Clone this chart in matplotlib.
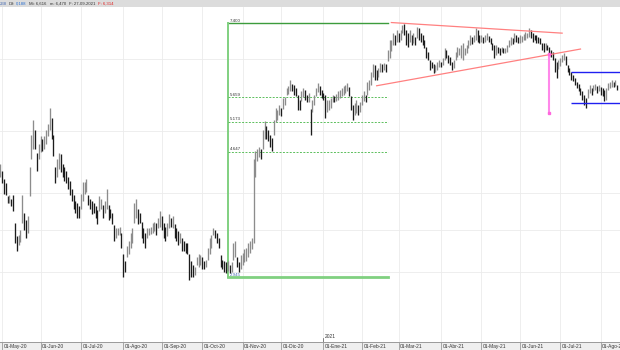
import numpy as np
import pandas as pd
import matplotlib
matplotlib.use("Agg")
import matplotlib.pyplot as plt
from matplotlib.ticker import NullLocator, FixedLocator
from matplotlib.transforms import ScaledTranslation, blended_transform_factory

plt.rcParams['font.family'] = ['Liberation Sans', 'DejaVu Sans']

# ---------------- data ----------------
start_date = '2020-04-30'
highs = [
    4.44, 4.33, 4.21, 4.14, 3.95, 3.97, 3.92, 3.97, 3.59, 3.42,
    3.43, 3.50, 3.97, 3.72, 3.63, 3.68, 4.40, 4.94, 5.22, 5.03,
    4.62, 4.77, 4.91, 4.86, 4.91, 5.03, 5.14, 5.45, 5.25, 4.94,
    4.40, 4.52, 4.62, 4.60, 4.44, 4.39, 4.33, 4.24, 4.18, 4.06,
    3.97, 3.88, 3.85, 3.81, 3.99, 4.16, 4.16, 4.21, 3.97, 3.92,
    3.88, 3.85, 3.81, 3.76, 3.95, 3.92, 3.83, 3.88, 4.06, 3.83,
    3.78, 3.72, 3.56, 3.52, 3.52, 3.54, 3.46, 3.20, 3.13, 3.30,
    3.36, 3.46, 3.52, 3.85, 3.92, 3.78, 3.72, 3.60, 3.52, 3.46,
    3.52, 3.52, 3.54, 3.59, 3.60, 3.59, 3.65, 3.74, 3.68, 3.59,
    3.54, 3.59, 3.70, 3.65, 3.68, 3.57, 3.52, 3.48, 3.46, 3.40,
    3.36, 3.34, 3.34, 3.20, 3.13, 3.08, 3.06, 3.17, 3.20, 3.19,
    3.17, 3.13, 3.14, 3.28, 3.40, 3.44, 3.52, 3.50, 3.46, 3.40,
    3.19, 3.14, 3.13, 3.11, 3.13, 3.08, 3.11, 3.34, 3.36, 3.17,
    3.11, 3.19, 3.22, 3.26, 3.28, 3.34, 3.36, 3.40, 4.52, 4.66,
    4.69, 4.73, 4.69, 5.03, 5.20, 5.09, 5.03, 4.94, 4.89, 5.22,
    5.45, 5.41, 5.51, 5.45, 5.65, 5.67, 5.86, 5.90, 6.03, 5.94,
    5.92, 5.86, 5.71, 5.61, 5.78, 5.86, 5.82, 5.71, 5.75, 5.43,
    5.61, 5.71, 5.86, 5.96, 5.90, 5.82, 5.75, 5.71, 5.61, 5.61,
    5.65, 5.71, 5.69, 5.73, 5.78, 5.82, 5.86, 5.90, 5.92, 5.96,
    5.88, 5.69, 5.51, 5.55, 5.61, 5.51, 5.57, 5.71, 5.78, 5.71,
    5.98, 6.03, 6.20, 6.38, 6.36, 6.25, 6.29, 6.41, 6.38, 6.41,
    6.38, 6.72, 6.96, 6.96, 7.14, 7.09, 7.22, 7.14, 7.22, 7.35,
    7.38, 7.22, 7.14, 7.22, 7.09, 7.14, 7.04, 7.30, 7.27, 7.14,
    7.09, 6.96, 6.78, 6.67, 6.48, 6.43, 6.38, 6.36, 6.43, 6.48,
    6.43, 6.52, 6.76, 6.72, 6.60, 6.55, 6.43, 6.48, 6.67, 6.78,
    6.76, 6.84, 6.88, 6.76, 6.84, 6.96, 7.09, 7.04, 7.09, 7.27,
    7.22, 7.09, 7.09, 7.04, 7.09, 7.14, 7.06, 7.01, 6.90, 6.84,
    6.84, 6.78, 6.76, 6.78, 6.76, 6.76, 6.84, 6.96, 7.04, 7.01,
    7.14, 7.09, 7.04, 7.09, 7.06, 7.12, 7.17, 7.14, 7.27, 7.22,
    7.14, 7.09, 7.09, 7.04, 7.01, 6.90, 6.88, 6.88, 6.84, 6.78,
    6.72, 6.67, 6.52, 6.43, 6.48, 6.52, 6.60, 6.64, 6.57, 6.36,
    6.29, 6.20, 6.14, 6.07, 5.98, 5.94, 5.86, 5.78, 5.71, 5.65,
    5.84, 5.92, 5.86, 5.92, 5.94, 5.90, 5.92, 5.88, 5.86, 5.82,
    5.86, 5.96, 5.98, 6.03, 5.98, 6.03, 5.92,
]
lows = [
    4.24, 4.14, 3.99, 3.97, 3.85, 3.86, 3.81, 3.74, 3.34, 3.24,
    3.31, 3.35, 3.59, 3.50, 3.40, 3.46, 3.95, 4.52, 4.69, 4.69,
    4.33, 4.52, 4.64, 4.66, 4.69, 4.77, 4.91, 5.03, 4.86, 4.57,
    4.14, 4.24, 4.36, 4.31, 4.24, 4.18, 4.14, 4.06, 3.97, 3.88,
    3.78, 3.72, 3.65, 3.65, 3.78, 3.88, 3.99, 4.02, 3.83, 3.78,
    3.70, 3.72, 3.65, 3.57, 3.74, 3.78, 3.65, 3.72, 3.78, 3.62,
    3.65, 3.57, 3.36, 3.40, 3.44, 3.44, 3.28, 2.95, 3.00, 3.17,
    3.20, 3.28, 3.34, 3.59, 3.65, 3.57, 3.59, 3.40, 3.34, 3.28,
    3.40, 3.44, 3.45, 3.46, 3.48, 3.44, 3.52, 3.54, 3.50, 3.40,
    3.36, 3.42, 3.52, 3.54, 3.52, 3.40, 3.36, 3.31, 3.34, 3.24,
    3.24, 3.22, 3.20, 2.92, 2.95, 2.95, 2.97, 3.08, 3.06, 3.08,
    3.04, 3.04, 3.06, 3.14, 3.20, 3.28, 3.44, 3.40, 3.34, 3.28,
    3.06, 3.04, 3.00, 2.99, 3.01, 2.99, 3.00, 3.14, 3.17, 3.06,
    3.00, 3.04, 3.08, 3.11, 3.13, 3.17, 3.22, 3.26, 3.34, 4.24,
    4.49, 4.55, 4.52, 4.69, 4.86, 4.86, 4.83, 4.73, 4.66, 4.94,
    5.18, 5.22, 5.31, 5.29, 5.43, 5.51, 5.71, 5.73, 5.78, 5.78,
    5.71, 5.69, 5.41, 5.41, 5.59, 5.67, 5.61, 5.57, 5.57, 4.94,
    5.37, 5.51, 5.69, 5.76, 5.71, 5.65, 5.61, 5.24, 5.37, 5.41,
    5.45, 5.57, 5.57, 5.59, 5.61, 5.65, 5.69, 5.71, 5.75, 5.78,
    5.69, 5.41, 5.22, 5.31, 5.35, 5.31, 5.37, 5.51, 5.59, 5.57,
    5.71, 5.82, 5.92, 6.10, 6.03, 6.03, 6.10, 6.20, 6.20, 6.25,
    6.20, 6.46, 6.52, 6.70, 6.84, 6.84, 6.92, 6.92, 6.96, 7.14,
    7.09, 6.84, 6.80, 6.92, 6.84, 6.88, 6.84, 7.01, 6.96, 6.92,
    6.84, 6.76, 6.52, 6.48, 6.25, 6.29, 6.18, 6.20, 6.25, 6.31,
    6.31, 6.36, 6.48, 6.52, 6.41, 6.36, 6.25, 6.29, 6.48, 6.55,
    6.60, 6.52, 6.48, 6.60, 6.64, 6.76, 6.84, 6.86, 6.92, 6.96,
    6.92, 6.88, 6.92, 6.88, 6.92, 6.96, 6.92, 6.86, 6.72, 6.52,
    6.60, 6.64, 6.60, 6.67, 6.64, 6.64, 6.67, 6.78, 6.84, 6.86,
    6.92, 6.92, 6.88, 6.88, 6.92, 6.96, 6.96, 7.01, 7.04, 7.01,
    6.92, 6.96, 6.88, 6.88, 6.86, 6.72, 6.67, 6.72, 6.72, 6.55,
    6.55, 6.48, 6.20, 6.07, 6.27, 6.34, 6.43, 6.48, 6.36, 6.20,
    6.14, 6.03, 6.00, 5.92, 5.86, 5.78, 5.71, 5.61, 5.51, 5.45,
    5.65, 5.75, 5.71, 5.78, 5.82, 5.75, 5.78, 5.71, 5.69, 5.59,
    5.61, 5.82, 5.86, 5.88, 5.88, 5.90, 5.82,
]

month_abbr = ['Ene', 'Feb', 'Mar', 'Abr', 'May', 'Jun',
              'Jul', 'Ago', 'Sep', 'Oct', 'Nov', 'Dic']
tick_month_starts = pd.date_range('2020-05-01', '2021-08-01', freq='MS')

fib_dates = ['2020-10-21', '2021-02-19']
fib_levels = [7.400, 5.659, 5.173, 4.647, 2.945]
fib_labels = ['7.400', '5.659', '5.173', '4.647', '2.945']

tri_upper_dates = ['2021-02-23', '2021-07-02']
tri_upper_prices = [7.42, 7.14]
tri_lower_dates = ['2021-02-11', '2021-07-16']
tri_lower_prices = [5.90, 6.74]
target_date = '2021-06-23'
target_prices = [6.61, 5.34]
range_start = '2021-07-09'
range_levels = [6.20, 5.54]

grid_prices = [3.0, 3.5, 4.0, 5.0, 6.5]

header_parts = ['238', 'Dif:', '0,188', 'Mi: 6,616', 'm: 6,470', 'F: 27-09-2021', 'F: 6,314']
header_colors = ['#4a6fb5', '#333333', '#2a6fd0', '#333333', '#333333', '#333333', '#e02020']
header_gaps = [0, 1.5, 1.0, 3.0, 3.0, 3.0, 3.0]

# ---------------- build ----------------
dates = pd.bdate_range(start_date, periods=len(highs))
idx = np.arange(len(dates))
H = np.array(highs)
L = np.array(lows)
mid = (H + L) / 2
up = np.r_[True, mid[1:] >= mid[:-1]]

def di(d):
    return int(dates.searchsorted(pd.Timestamp(d)))

tick_pos = [di(d) for d in tick_month_starts]
tick_lab = ['01-%s-%s' % (month_abbr[d.month - 1], str(d.year)[2:]) for d in tick_month_starts]

W, Hh = 620, 350
fig = plt.figure(figsize=(W / 100, Hh / 100), dpi=100)
fig.patch.set_facecolor('#efefef')
ax = fig.add_axes([0, 8 / Hh, 1, 1 - 8 / Hh - 7 / Hh])
ax.set_facecolor('white')

# header band
fig.patches.append(plt.Rectangle((0, 1 - 7 / Hh), 1, 7 / Hh, transform=fig.transFigure,
                                 facecolor='#dcdcdc', edgecolor='none', zorder=0))
renderer = fig.canvas.get_renderer()
xpos = 0.0
for t, c, g in zip(header_parts, header_colors, header_gaps):
    xpos += g
    tx = fig.text(xpos / W, 1 - 3.6 / Hh, t, color=c, fontsize=3.1, va='center', ha='left')
    xpos += tx.get_window_extent(renderer).width

ax.set_yscale('log')
ax.set_ylim(2.33, 7.85)
ppd = (600.7 - 2.0) / (tick_pos[-1] - tick_pos[0])
x_left = tick_pos[0] - 2.0 / ppd
ax.set_xlim(x_left, x_left + W / ppd)

# grids
ax.yaxis.set_major_locator(FixedLocator(grid_prices))
ax.yaxis.set_minor_locator(NullLocator())
ax.xaxis.set_major_locator(FixedLocator(tick_pos))
ax.xaxis.set_minor_locator(NullLocator())
ax.grid(True, color='#ebebeb', lw=0.6, zorder=0)
ax.set_axisbelow(True)
ax.tick_params(axis='y', left=False, labelleft=False)
ax.tick_params(axis='x', direction='out', length=5.8, width=0.5, color='#8a8a8a',
               labelbottom=False)
for s in ['top', 'left', 'right']:
    ax.spines[s].set_visible(False)
ax.spines['bottom'].set_color('#9a9a9a')
ax.spines['bottom'].set_linewidth(0.7)

bt = blended_transform_factory(ax.transData, ax.transAxes)
for p, lab in zip(tick_pos, tick_lab):
    ax.text(p, 0, lab, transform=bt + ScaledTranslation(1.5 / 100, -4.3 / 100, fig.dpi_scale_trans),
            fontsize=3.5, color='#333333', ha='left', va='center', clip_on=False)
jan = tick_pos[8]
ax.text(jan, 0, '2021', transform=bt + ScaledTranslation(1.2 / 100, 5.2 / 100, fig.dpi_scale_trans),
        fontsize=3.5, color='#333333', ha='left', va='center')
ax.axvline(jan, ymin=0, ymax=4.5 / 335, color='#555555', lw=0.5)

# bars
colors = np.where(up, '#8c8c8c', '#1c1c1c')
ax.vlines(idx, L, H, colors=colors, lw=0.95, zorder=3)

# fibonacci
fs, fe = di(fib_dates[0]), di(fib_dates[1])
ax.plot([fs, fe], [fib_levels[0]] * 2, color='#3c9c3c', lw=1.0, zorder=2)
ax.plot([fs, fs], [fib_levels[-1], fib_levels[0]], color='#80d080', lw=1.4, zorder=2)
ax.plot([fs, fe], [fib_levels[-1]] * 2, color='#80d080', lw=2.0, zorder=2)
for lv in fib_levels[1:-1]:
    ax.plot([fs, fe], [lv, lv], color='#5cbf5c', lw=0.7, ls=(0, (2, 1.5)), zorder=2)
for i, (lv, lab) in enumerate(zip(fib_levels, fib_labels)):
    ax.text(fs, lv, lab, transform=ax.transData + ScaledTranslation(2.2 / 100, 0.6 / 100, fig.dpi_scale_trans),
            fontsize=3.2, color='#4a6fb5' if i == len(fib_levels) - 1 else '#333333',
            ha='left', va='bottom', zorder=1.5)

# triangle
ax.plot([di(d) for d in tri_upper_dates], tri_upper_prices, color='#ff8080', lw=0.9, zorder=4)
ax.plot([di(d) for d in tri_lower_dates], tri_lower_prices, color='#ff8080', lw=0.9, zorder=4)
tdx = di(target_date)
ax.plot([tdx, tdx], target_prices, color='#ff88ea', lw=1.5, marker='s', ms=1.6,
        mfc='#ff66dd', mec='#ff66dd', zorder=4)

# range box
rs = di(range_start)
ax.hlines(range_levels, rs, idx[-1] + 10, colors='#2020f0', lw=1.0, zorder=4)

fig.savefig('out.png', dpi=100, facecolor=fig.get_facecolor())
